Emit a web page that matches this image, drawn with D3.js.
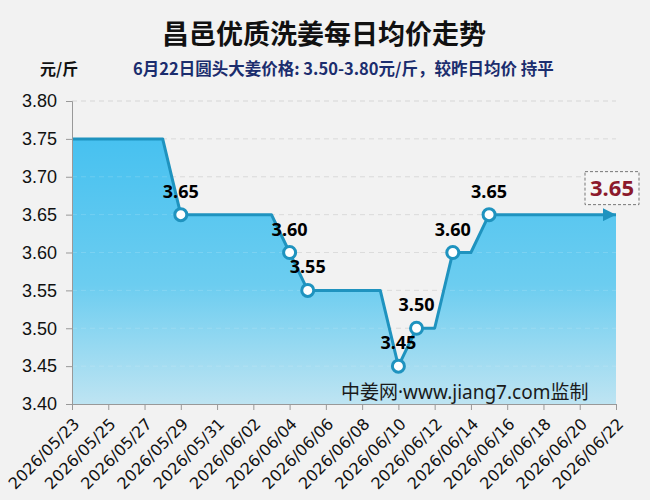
<!DOCTYPE html>
<html>
<head>
  <meta charset="utf-8">
  <style>
    body { margin: 0; background: #f2f2f2; }
    svg { display: block; font-family: "Noto Sans", "Noto Sans CJK SC", sans-serif; }
  </style>
  <title>昌邑优质洗姜每日均价走势</title>
</head>
<body>
  <script src="https://cdn.jsdelivr.net/npm/d3@7"></script>
  <svg width="650" height="500"></svg>

  <script>
    // daily average price, 2026/05/23 .. 2026/06/22
    var startDate = "2026/05/23",
        endDate = "2026/06/22";
    var prices = [
      3.75, 3.75, 3.75, 3.75, 3.75, 3.75,   // 05/23 - 05/28
      3.65, 3.65, 3.65, 3.65, 3.65, 3.65,   // 05/29 - 06/03
      3.60,                                 // 06/04
      3.55, 3.55, 3.55, 3.55, 3.55,         // 06/05 - 06/09
      3.45,                                 // 06/10
      3.50, 3.50,                           // 06/11 - 06/12
      3.60, 3.60,                           // 06/13 - 06/14
      3.65, 3.65, 3.65, 3.65, 3.65, 3.65, 3.65, 3.65  // 06/15 - 06/22
    ];
    var yTicks = [3.40, 3.45, 3.50, 3.55, 3.60, 3.65, 3.70, 3.75, 3.80];

    var titleText = "昌邑优质洗姜每日均价走势",
        subText = "6月22日圆头大姜价格: 3.50-3.80元/斤，较昨日均价 持平",
        unitText = "元/斤",
        markText = "中姜网·www.jiang7.com监制";

    var parseDate = d3.timeParse("%Y/%m/%d"),
        fmtDate = d3.timeFormat("%Y/%m/%d");

    var t0 = parseDate(startDate);
    var data = prices.map(function(v, i) {
      return { date: d3.timeDay.offset(t0, i), value: v };
    });

    var svg = d3.select("svg");
    var pLeft = 72, pRight = 616, pTop = 101, pBottom = 404;

    var x = d3.scaleTime().domain([t0, parseDate(endDate)]).range([pLeft, pRight]);
    var y = d3.scaleLinear().domain([3.40, 3.80]).range([pBottom, pTop]);

    // gradient for the area
    var defs = svg.append("defs");
    var grad = defs.append("linearGradient")
        .attr("id", "areaGrad").attr("x1", 0).attr("y1", 0).attr("x2", 0).attr("y2", 1);
    grad.append("stop").attr("offset", "0%").attr("stop-color", "#47c1f0");
    grad.append("stop").attr("offset", "55%").attr("stop-color", "#6ccdf0");
    grad.append("stop").attr("offset", "100%").attr("stop-color", "#bee4f2");

    defs.append("marker")
        .attr("id", "arrow")
        .attr("viewBox", "0 0 10 10")
        .attr("refX", 10).attr("refY", 5)
        .attr("markerWidth", 4.5).attr("markerHeight", 4.5)
        .attr("markerUnits", "strokeWidth")
        .attr("orient", "auto")
      .append("path")
        .attr("d", "M0,0 L10,5 L0,10 Z")
        .attr("fill", "#1f93bf");

    // title + subtitle
    svg.append("text").attr("x", 324).attr("y", 44)
       .attr("text-anchor", "middle")
       .attr("font-family", "'Noto Sans CJK SC'")
       .attr("font-size", 27).attr("font-weight", "bold")
       .attr("fill", "#111").text(titleText);

    svg.append("text").attr("x", 40).attr("y", 75)
       .attr("font-family", "'Noto Sans CJK SC'")
       .attr("font-size", 16).attr("font-weight", "bold")
       .attr("fill", "#111").text(unitText);

    svg.append("text").attr("x", 133).attr("y", 75)
       .attr("font-family", "'Noto Sans CJK SC'")
       .attr("font-size", 16.5).attr("font-weight", "bold")
       .attr("fill", "#1b2d6e").text(subText);

    // grid lines
    svg.append("g").selectAll("line")
       .data(yTicks.slice(1))
       .enter().append("line")
       .attr("x1", pLeft).attr("x2", pRight)
       .attr("y1", function(d) { return y(d); })
       .attr("y2", function(d) { return y(d); })
       .attr("stroke", "#d6d6d6")
       .attr("stroke-dasharray", "5,4");

    // area
    var area = d3.area()
        .x(function(d) { return x(d.date); })
        .y0(pBottom)
        .y1(function(d) { return y(d.value); });

    svg.append("path").datum(data)
       .attr("d", area)
       .attr("fill", "url(#areaGrad)");

    // grid over area (faint)
    svg.append("g").selectAll("line")
       .data(yTicks.slice(1, -1))
       .enter().append("line")
       .attr("x1", pLeft).attr("x2", pRight)
       .attr("y1", function(d) { return y(d); })
       .attr("y2", function(d) { return y(d); })
       .attr("stroke", "#ffffff").attr("stroke-opacity", 0.15)
       .attr("stroke-dasharray", "5,4");

    // watermark
    svg.append("text").attr("x", 341).attr("y", 399)
       .attr("font-size", 19).attr("fill", "#1a1a1a")
       .text(markText);

    // line
    var line = d3.line()
        .x(function(d) { return x(d.date); })
        .y(function(d) { return y(d.value); });

    svg.append("path").datum(data)
       .attr("d", line)
       .attr("fill", "none")
       .attr("stroke", "#1f93bf")
       .attr("stroke-width", 3)
       .attr("stroke-linejoin", "round")
       .attr("marker-end", "url(#arrow)");

    // axes
    var yAxis = svg.append("g")
       .attr("transform", "translate(" + pLeft + ",0)")
       .call(d3.axisLeft(y).tickValues(yTicks).tickFormat(d3.format(".2f")).tickSize(6).tickPadding(9));
    yAxis.selectAll("text").attr("font-size", 18).attr("fill", "#111");

    var xTicks = data.filter(function(d, i) { return i % 2 === 0; }).map(function(d) { return d.date; });
    var xAxis = svg.append("g")
       .attr("transform", "translate(0," + pBottom + ")")
       .call(d3.axisBottom(x).tickValues(xTicks).tickFormat(fmtDate).tickSize(6));
    xAxis.selectAll("text")
       .attr("font-family", "'DejaVu Sans'")
       .attr("font-size", 16).attr("fill", "#111")
       .attr("text-anchor", "end")
       .attr("x", 0).attr("y", 0).attr("dy", "0.35em")
       .attr("transform", "translate(4,17) rotate(-45)");

    svg.selectAll(".domain").attr("stroke", "#999");
    svg.selectAll(".tick line").attr("stroke", "#999");

    // change points
    var changes = data.filter(function(d, i) { return i > 0 && d.value !== data[i - 1].value; });

    svg.append("g").selectAll("circle")
       .data(changes)
       .enter().append("circle")
       .attr("cx", function(d) { return x(d.date); })
       .attr("cy", function(d) { return y(d.value); })
       .attr("r", 6)
       .attr("fill", "#fff")
       .attr("stroke", "#1f93bf")
       .attr("stroke-width", 3);

    svg.append("g").selectAll("text")
       .data(changes)
       .enter().append("text")
       .attr("x", function(d) { return x(d.date); })
       .attr("y", function(d) { return y(d.value) - 17; })
       .attr("text-anchor", "middle")
       .attr("font-size", 18).attr("font-weight", "bold")
       .attr("fill", "#000")
       .text(function(d) { return d.value.toFixed(2); });

    // last value callout
    var last = data[data.length - 1];
    var lx = x(last.date) - 4, ly = y(last.value);
    svg.append("rect")
       .attr("x", lx - 27).attr("y", ly - 43)
       .attr("width", 54).attr("height", 33)
       .attr("fill", "#f6f6f6")
       .attr("stroke", "#777").attr("stroke-dasharray", "3,2");
    svg.append("text")
       .attr("x", lx).attr("y", ly - 19)
       .attr("text-anchor", "middle")
       .attr("font-size", 22).attr("font-weight", "bold")
       .attr("fill", "#8c1a2c")
       .text(last.value.toFixed(2));
  </script>
</body>
</html>
